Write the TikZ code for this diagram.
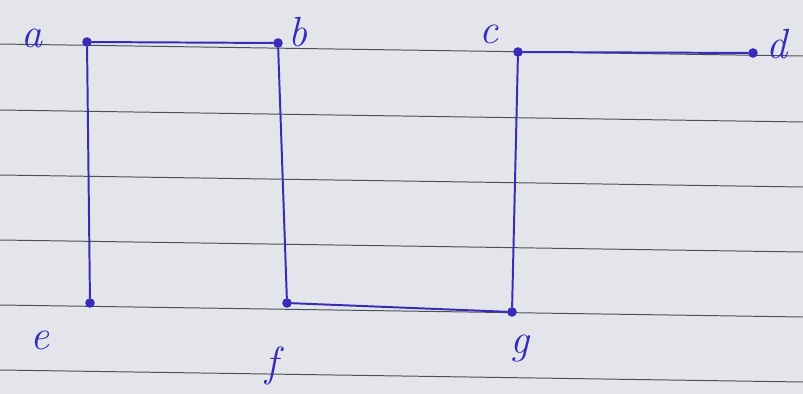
\documentclass[tikz,border=0pt]{standalone}
\usepackage{tikz}
\usetikzlibrary{positioning}
\definecolor{paper}{HTML}{E3E5EB}
\definecolor{rule}{HTML}{4E4E55}
\definecolor{pen}{HTML}{3A2AB8}
\tikzset{el/.style={line cap=round, line join=round},
  vtx/.style={circle, fill=pen, inner sep=0pt, minimum size=0.24cm},
  edge/.style={pen, line width=1.4pt},
  lbl/.style={pen, font=\fontsize{30}{34}\selectfont\itshape, inner sep=0pt}}

\begin{document}
\begin{tikzpicture}[el, x=0.025cm, y=-0.025cm]
  \fill[paper] (0,0) rectangle (803,394);
  \useasboundingbox (0,0) rectangle (803,394);
  \foreach \ry in {44,110,175,240,305,370}{\draw[rule,line width=0.7pt] (0,\ry)--(803,\ry+12);}
  \node[vtx] (a) at (87,42) {};
  \node[vtx] (b) at (278,43) {};
  \node[vtx] (c) at (518,52) {};
  \node[vtx] (d) at (753,53) {};
  \node[vtx] (e) at (90,303) {};
  \node[vtx] (f) at (287,303) {};
  \node[vtx] (g) at (512,312) {};
  \draw[edge] (a)--(b) (a)--(e) (b)--(f) (f)--(g) (g)--(c) (c)--(d);
  \node[lbl] (la) at (32,38) {a};
  \node[lbl] (lb) at (298,32) {b};
  \node[lbl] (lc) at (489,34) {c};
  \node[lbl] (ld) at (777,44) {d};
  \node[lbl] (le) at (40,340) {e};
  \node[lbl] (lf) at (272,366) {f};
  \node[lbl] (lg) at (520,348) {g};
\end{tikzpicture}
\end{document}
